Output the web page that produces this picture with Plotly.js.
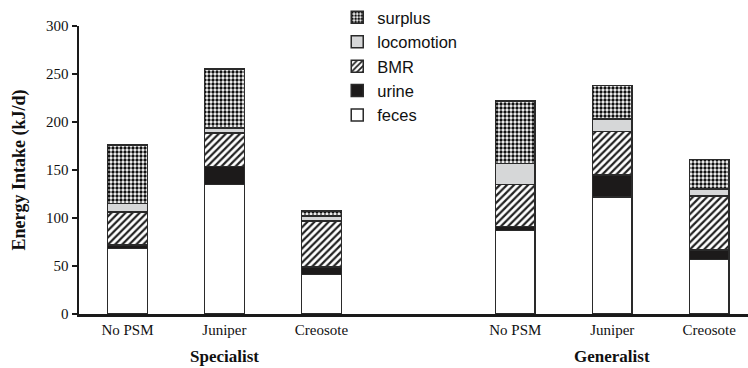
<!DOCTYPE html>
<html>
<head>
<meta charset="utf-8">
<script src="https://cdn.plot.ly/plotly-3.0.1.min.js"></script>
<style>html,body{margin:0;padding:0;background:#fff;}#chart{width:748px;height:368px;}</style>
</head>
<body>
<div id="chart"></div>
<script>
const groups = ["Specialist", "Generalist"];
const diets = ["No PSM", "Juniper", "Creosote"];
// values per bar, order: Specialist NoPSM, Juniper, Creosote, Generalist NoPSM, Juniper, Creosote
const feces      = [68, 135, 41, 87, 122, 57];
const urine      = [4, 18.5, 8, 4, 23, 9.5];
const bmr        = [34, 35, 48, 44, 45, 56.5];
const locomotion = [9, 5, 5, 22, 13, 7];
const surplus    = [61, 61.5, 5.5, 65, 35, 31];

const xs = [];
const tickText = [];
groups.forEach((g, gi) => diets.forEach((d, di) => { xs.push(gi * 4 + di); tickText.push(d); }));

const line = {color: '#2a2a2a', width: 1.5};
const bw = 0.41;
function tr(name, y, marker) {
  return {type: 'bar', name: name, x: xs, y: y, width: bw,
          marker: Object.assign({line: line}, marker), hoverinfo: 'y+name'};
}
const data = [
  tr('feces', feces, {color: '#ffffff'}),
  tr('urine', urine, {color: '#1c1a1a'}),
  tr('BMR', bmr, {color: '#ffffff', pattern: {shape: '/', fgcolor: '#222', bgcolor: '#ffffff', size: 5, solidity: 0.45}}),
  tr('locomotion', locomotion, {color: '#d6d7d8'}),
  tr('surplus', surplus, {color: '#ffffff', pattern: {shape: '.', fgcolor: '#111', bgcolor: '#ffffff', size: 4, solidity: 0.55}})
];

const serif = 'Liberation Serif, Times New Roman, serif';
const layout = {
  width: 748, height: 368,
  margin: {l: 79, r: 0, t: 26, b: 54},
  paper_bgcolor: '#fff', plot_bgcolor: '#fff',
  barmode: 'stack',
  showlegend: true,
  legend: {x: 0.386, y: 1.092, xanchor: 'left', yanchor: 'top', traceorder: 'reversed',
           font: {family: 'Liberation Sans, Arial, sans-serif', size: 16.5, color: '#111'},
           bgcolor: 'rgba(0,0,0,0)', itemwidth: 30},
  xaxis: {range: [-0.5, 6.4], tickvals: xs, ticktext: tickText, ticks: '', showgrid: false,
          zeroline: false, showline: true, linecolor: '#1a1a1a', linewidth: 2.5,
          tickfont: {family: serif, size: 15, color: '#111'}, fixedrange: true},
  yaxis: {range: [0, 300], dtick: 50, ticks: 'outside', ticklen: 5, tickwidth: 2, tickcolor: '#1a1a1a',
          showgrid: false, zeroline: false, showline: true, linecolor: '#1a1a1a', linewidth: 2.5,
          tickfont: {family: serif, size: 15, color: '#111'},
          title: {text: '<b>Energy Intake (kJ/d)</b>', font: {family: serif, size: 18, color: '#111'}, standoff: 16}},
  annotations: groups.map((g, gi) => ({
    text: '<b>' + g + '</b>', x: gi * 4 + 1, xref: 'x', y: -0.148, yref: 'paper',
    yanchor: 'middle', showarrow: false, font: {family: serif, size: 17, color: '#111'}
  }))
};
Plotly.newPlot('chart', data, layout, {displayModeBar: false, staticPlot: true});
</script>
</body>
</html>
